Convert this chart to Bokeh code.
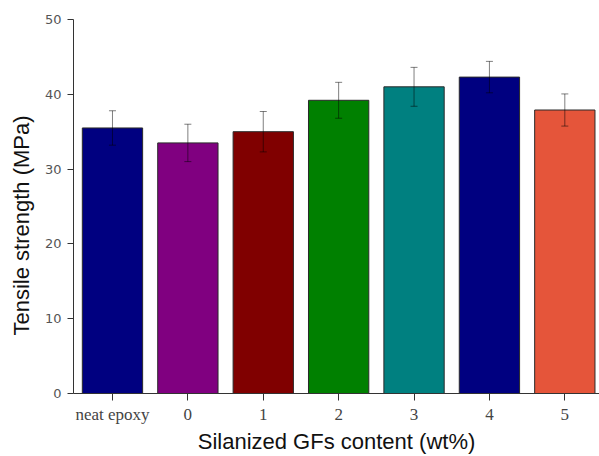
from bokeh.plotting import figure
from bokeh.models import Range1d, Whisker, TeeHead, ColumnDataSource, FixedTicker, Title
from bokeh.embed import file_html
from bokeh.resources import INLINE

categories = ["neat epoxy", "0", "1", "2", "3", "4", "5"]
strength = [35.5, 33.5, 35.0, 39.2, 41.0, 42.3, 37.9]
errors = [2.3, 2.5, 2.7, 2.4, 2.6, 2.1, 2.15]
colors = ["#000080", "#800080", "#800000", "#008000", "#008080", "#000080", "#E5553A"]
y_ticks = [0, 10, 20, 30, 40, 50]
x_title = "Silanized GFs content (wt%)"
y_title = "Tensile strength (MPa)"

positions = list(range(len(categories)))
src = ColumnDataSource(dict(
    x=positions,
    top=strength,
    color=colors,
    upper=[s + e for s, e in zip(strength, errors)],
    lower=[s - e for s, e in zip(strength, errors)],
))

p = figure(width=599, height=456, output_backend="svg", toolbar_location=None,
           x_range=Range1d(-0.517, 6.46), y_range=Range1d(0, 50),
           min_border_left=73, min_border_right=0, min_border_top=19, min_border_bottom=63)
p.outline_line_color = None
p.xgrid.visible = False
p.ygrid.visible = False

p.vbar(x="x", top="top", width=0.8, bottom=0, fill_color="color",
       line_color="#2a2a2a", line_width=1, source=src)

w = Whisker(source=src, base="x", upper="upper", lower="lower",
            line_color="black", line_alpha=0.5, line_width=1, level="overlay",
            upper_head=TeeHead(size=7, line_color="black", line_alpha=0.5, line_width=1),
            lower_head=TeeHead(size=7, line_color="black", line_alpha=0.5, line_width=1))
p.add_layout(w)

ax = p.xaxis[0]
ax.ticker = FixedTicker(ticks=positions)
ax.major_label_overrides = {i: c for i, c in zip(positions, categories)}
ax.major_label_text_font = "Liberation Serif"
ax.major_label_text_font_size = "17px"
ax.major_label_text_color = "#444444"
ax.major_tick_out = 7
ax.major_tick_in = 0
ax.minor_tick_out = 0
ax.minor_tick_in = 0
ax.major_label_standoff = 4
ax.axis_line_color = "#333333"
ax.major_tick_line_color = "#333333"
ax.axis_label = x_title
ax.axis_label_text_font = "Liberation Sans"
ax.axis_label_text_font_style = "normal"
ax.axis_label_text_font_size = "22px"
ax.axis_label_text_color = "#111111"
ax.axis_label_standoff = 2

ay = p.yaxis[0]
ay.ticker = FixedTicker(ticks=y_ticks)
ay.major_label_text_font = "DejaVu Sans"
ay.major_label_text_font_size = "13px"
ay.major_label_text_color = "#555555"
ay.major_tick_out = 6
ay.major_tick_in = 0
ay.minor_tick_out = 0
ay.minor_tick_in = 0
ay.major_label_standoff = 6
ay.axis_line_color = "#333333"
ay.major_tick_line_color = "#333333"

ylab = Title(text=y_title, align="left", offset=58, vertical_align="middle", standoff=13,
             text_font="Liberation Sans", text_font_size="22px", text_font_style="normal",
             text_color="#111111")
p.add_layout(ylab, "left")

open("out.html", "w").write(file_html(p, INLINE))
